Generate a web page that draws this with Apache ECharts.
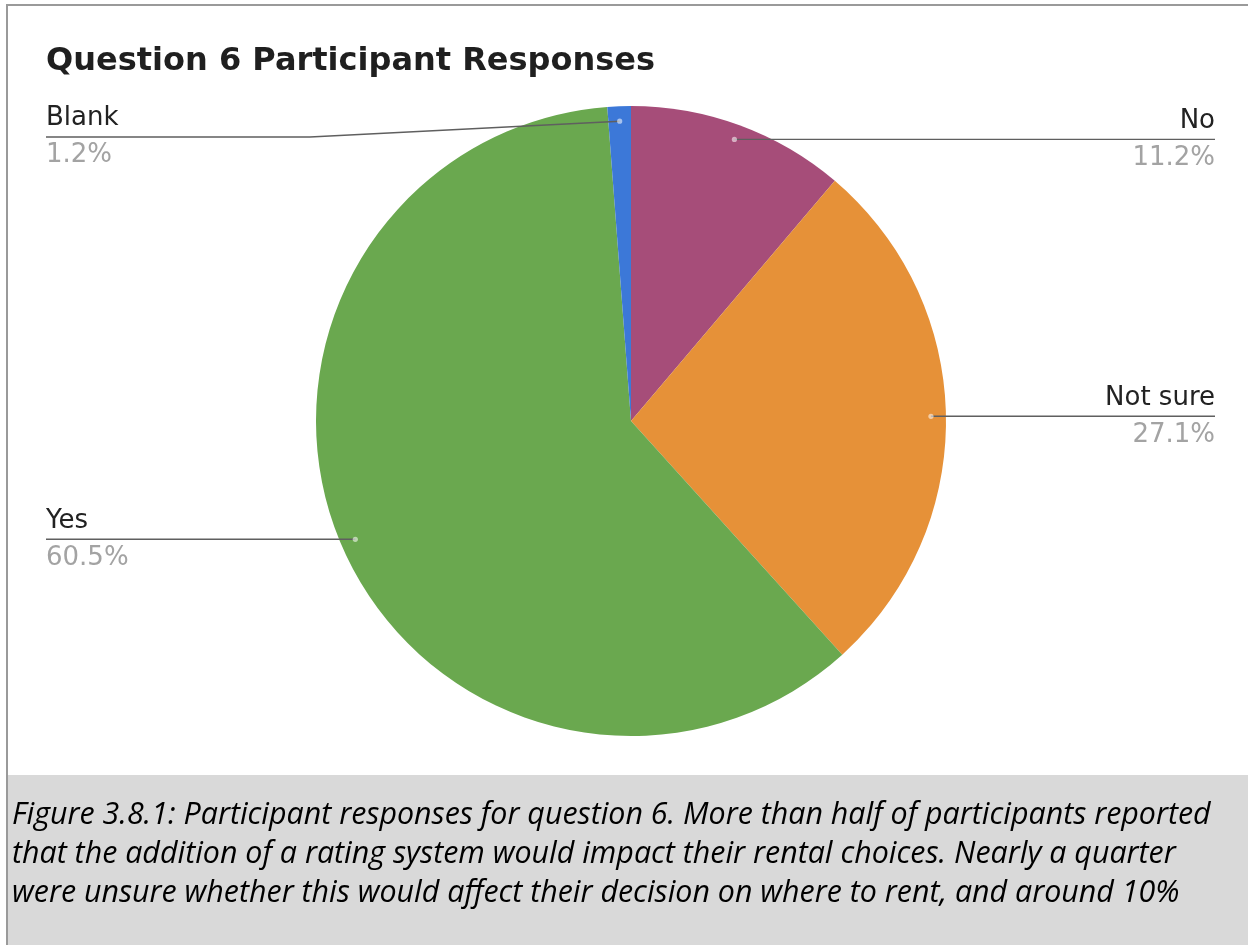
<!DOCTYPE html>
<html>
<head>
<meta charset="utf-8">
<script src="https://cdn.jsdelivr.net/npm/echarts@6/dist/echarts.min.js"></script>
<style>
  html, body { margin: 0; padding: 0; background: #ffffff; }
  #chart { width: 1248px; height: 945px; }
</style>
</head>
<body>
<div id="chart"></div>
<script>
// ---- data ----
const titleText = 'Question 6 Participant Responses';
const categories = ['No', 'Not sure', 'Yes', 'Blank'];
const values = [11.2, 27.1, 60.5, 1.2];
const colors = ['#a64d79', '#e69138', '#6aa84f', '#3c78d8'];
const captionLead = 'Figure 3.8.1:';
const captionLines = [
  ' Participant responses for question 6. More than half of participants reported',
  'that the addition of a rating system would impact their rental choices. Nearly a quarter',
  'were unsure whether this would affect their decision on where to rent, and around 10%'
];

// ---- layout ----
const W = 1248, H = 945;
const CX = 631, CY = 421, R = 315;
const DOT_R = 300;
const LEFT_X = 46, RIGHT_X = 1215, MIN_LABEL_Y = 137;
const FONT = '"DejaVu Sans", "Liberation Sans", Arial, sans-serif';
const CAP_FONT = '"Open Sans", "Noto Sans", sans-serif';

const total = values.reduce((a, b) => a + b, 0);
const cum = [];
values.reduce((acc, v, i) => { cum[i] = acc; return acc + v; }, 0);

// anchor point of each leader line, derived from the slice's mid angle
function anchor(i) {
  const th = (cum[i] + values[i] / 2) / total * Math.PI * 2;
  return { x: CX + DOT_R * Math.sin(th), y: CY - DOT_R * Math.cos(th), left: Math.sin(th) < 0 };
}

const pieData = categories.map((c, i) => ({ name: c, value: values[i], itemStyle: { color: colors[i] } }));

const dots = categories.map((c, i) => {
  const a = anchor(i);
  return { type: 'circle', shape: { cx: a.x, cy: a.y, r: 2.6 }, style: { fill: 'rgba(255,255,255,0.55)' }, z: 20, silent: true };
});

const chart = echarts.init(document.getElementById('chart'), null, { renderer: 'canvas' });

const option = {
  backgroundColor: '#ffffff',
  animation: false,
  title: {
    text: titleText,
    left: LEFT_X - 5,
    top: 41,
    textStyle: { fontFamily: FONT, fontSize: 32, fontWeight: 'bold', color: '#1f1f1f' }
  },
  graphic: [
    { type: 'rect', shape: { x: 8, y: 775, width: W - 8, height: H - 775 }, style: { fill: '#d9d9d9' }, z: -10 },
    { type: 'rect', shape: { x: 6, y: 4, width: W - 6, height: 2 }, style: { fill: '#9a9a9a' }, z: 10 },
    { type: 'rect', shape: { x: 6, y: 4, width: 2, height: H - 4 }, style: { fill: '#9a9a9a' }, z: 10 },
    {
      type: 'text', left: 12, top: 800, z: 10,
      style: {
        text: '{lead|' + captionLead + '}{body|' + captionLines[0] + '}\n{body|' + captionLines[1] + '}\n{body|' + captionLines[2] + '}',
        rich: {
          lead: { fontFamily: CAP_FONT, fontStyle: 'italic', fontSize: 30.4, lineHeight: 39, fill: '#000', color: '#000' },
          body: { fontFamily: CAP_FONT, fontStyle: 'italic', fontSize: 30.4, lineHeight: 39, fill: '#000', color: '#000' }
        }
      }
    }
  ].concat(dots),
  series: [
    {
      type: 'pie',
      z: 2,
      center: [CX, CY],
      radius: [0, R],
      startAngle: 90,
      clockwise: true,
      percentPrecision: 1,
      data: pieData,
      itemStyle: { borderWidth: 0 },
      emphasis: { disabled: true },
      label: { show: false },
      labelLine: { show: false }
    },
    {
      type: 'pie',
      z: 5,
      silent: true,
      center: [CX, CY],
      radius: [0, R],
      startAngle: 90,
      clockwise: true,
      percentPrecision: 1,
      avoidLabelOverlap: false,
      data: categories.map((c, i) => ({ name: c, value: values[i] })),
      itemStyle: { color: 'rgba(0,0,0,0)', borderWidth: 0 },
      emphasis: { disabled: true },
      label: {
        show: true,
        position: 'outside',
        formatter: '{n|{b}}\n{p|{d}%}',
        rich: {
          n: { fontFamily: FONT, fontSize: 26, color: '#222222', lineHeight: 37 },
          p: { fontFamily: FONT, fontSize: 26, color: '#a3a3a3', lineHeight: 37 }
        }
      },
      labelLine: { show: true, length: 10, length2: 10, lineStyle: { color: '#5f5f5f', width: 1.4 } },
      labelLayout: function (params) {
        const a = anchor(params.dataIndex);
        const ly = Math.max(a.y, MIN_LABEL_Y);
        const lx = a.left ? LEFT_X : RIGHT_X;
        const bx = a.x + (lx - a.x) * 0.54;
        return {
          x: lx,
          y: ly,
          align: a.left ? 'left' : 'right',
          verticalAlign: 'middle',
          labelLinePoints: [[a.x, a.y], [bx, ly], [lx, ly]]
        };
      }
    }
  ]
};
chart.setOption(option);
</script>
</body>
</html>
